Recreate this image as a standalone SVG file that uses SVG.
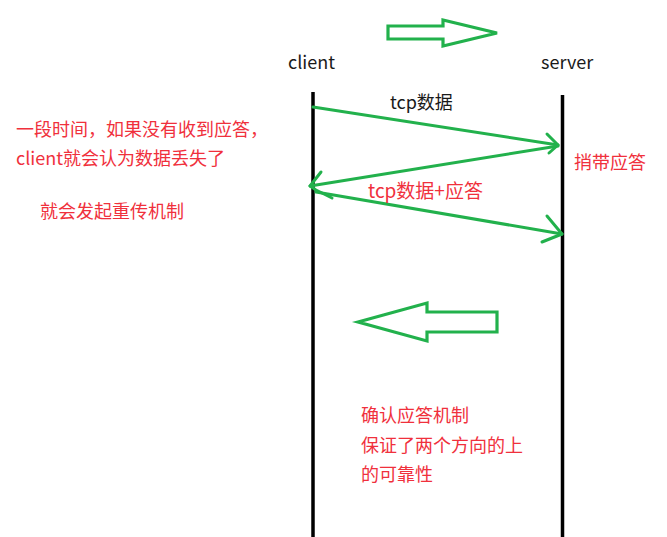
<svg xmlns="http://www.w3.org/2000/svg" width="667" height="537" viewBox="0 0 667 537">
<style>
text{font-family:"Noto Sans CJK SC","Noto Sans",sans-serif;font-size:18px}
.k{fill:#1a1a1a}
.r{fill:#f0303c}
.life{stroke:#000;stroke-width:3.5;fill:none}
.g{stroke:#22b14c;stroke-width:3;fill:none;stroke-linecap:round;stroke-linejoin:round}
.big{stroke:#22b14c;stroke-width:3.2;fill:none;stroke-linejoin:miter}
</style>
<rect width="667" height="537" fill="#fff"/>
<g id="client">
<text class="k" x="288" y="69">client</text>
<line class="life" x1="313" y1="92" x2="313" y2="537"/>
</g>
<g id="server">
<text class="k" x="541" y="69">server</text>
<line class="life" x1="562.5" y1="95" x2="562.5" y2="537"/>
</g>
<g id="connectors">
<line class="g" x1="313" y1="107" x2="558" y2="145"/>
<polyline class="g" points="547,134 558,145 549,153"/>
<line class="g" x1="558" y1="146" x2="310" y2="186"/>
<polyline class="g" points="321,172 310,186 316,190 332,198"/>
<line class="g" x1="316" y1="192" x2="562" y2="234"/>
<polyline class="g" points="547,216 562,234 542,242"/>
</g>
<g id="label-tcp">
<text class="k" x="390" y="109">tcp数据</text>
</g>
<g id="label-tcp-ack">
<text class="r" x="368" y="198" style="font-size:19px">tcp数据+应答</text>
</g>
<g id="label-piggyback">
<text class="r" x="574" y="169">捎带应答</text>
</g>
<g id="note-left">
<text class="r" x="16" y="136">一段时间，如果没有收到应答，</text>
<text class="r" x="16" y="165">client就会认为数据丢失了</text>
<text class="r" x="40" y="218">就会发起重传机制</text>
</g>
<g id="note-bottom">
<text class="r" x="361" y="422">确认应答机制</text>
<text class="r" x="361" y="452">保证了两个方向的上</text>
<text class="r" x="361" y="481">的可靠性</text>
</g>
<g id="arrow-right">
<polygon class="big" points="388,26 443,26 443,20 497,33 443,46 443,39 388,39"/>
</g>
<g id="arrow-left">
<polygon class="big" points="358,322 427,303 427,312 497,312 497,332 427,332 427,341"/>
</g>
</svg>
